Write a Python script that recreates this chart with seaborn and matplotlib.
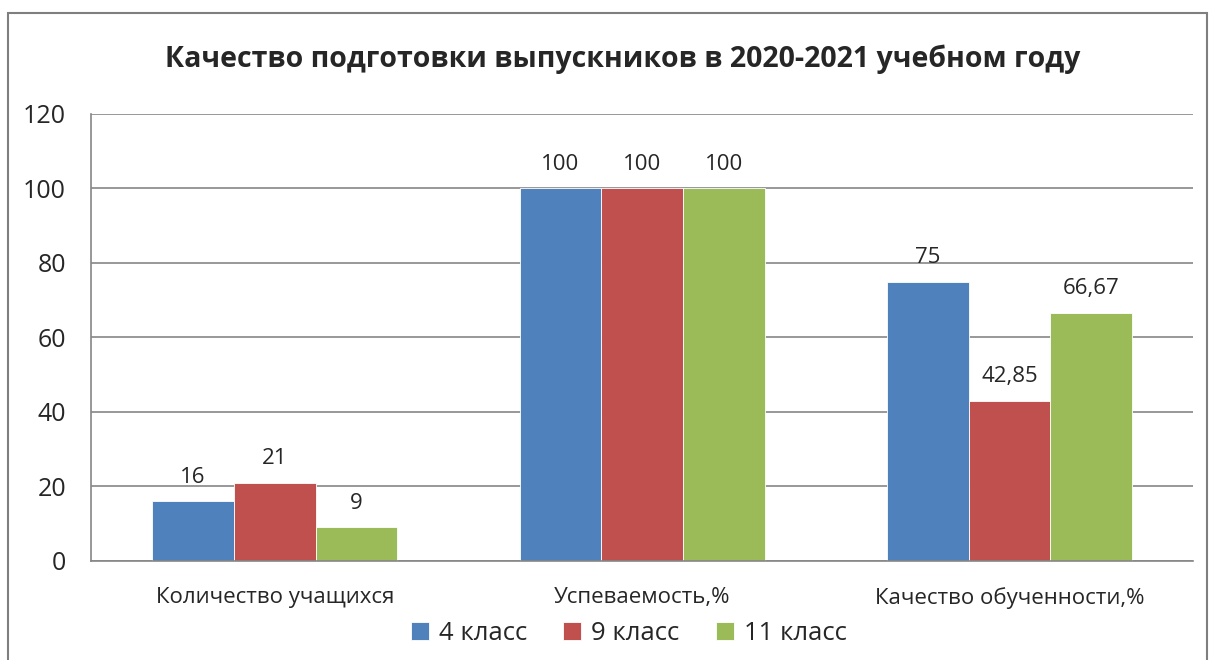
import pandas as pd
import seaborn as sns
import matplotlib.pyplot as plt
from matplotlib.patches import Rectangle

categories = ["Количество учащихся", "Успеваемость,%", "Качество обученности,%"]
groups = ["4 класс", "9 класс", "11 класс"]
vals_4 = [16, 100, 75]
vals_9 = [21, 100, 42.85]
vals_11 = [9, 100, 66.67]
labels_4 = ["16", "100", "75"]
labels_9 = ["21", "100", "42,85"]
labels_11 = ["9", "100", "66,67"]

colors = ["#4F81BD", "#C0504D", "#9BBB59"]
grid_col = "#868686"

rows = []
for g, vals in zip(groups, [vals_4, vals_9, vals_11]):
    for c, v in zip(categories, vals):
        rows.append({"cat": c, "grp": g, "val": v})
df = pd.DataFrame(rows)

sns.set_style("white")
plt.rcParams["font.family"] = ["Open Sans", "DejaVu Sans"]

fig = plt.figure(figsize=(12.09, 6.60), dpi=100)
ax = fig.add_axes([0.0753, 0.15, 0.9115, 0.6773])

sns.barplot(data=df, x="cat", y="val", hue="grp", palette=colors,
            width=0.667, gap=0, ax=ax, saturation=1, legend=True,
            edgecolor="white", linewidth=0.6)

for cont, labs in zip(ax.containers, [labels_4, labels_9, labels_11]):
    ax.bar_label(cont, labels=labs, padding=10, fontsize=16)

ax.set_ylim(0, 120)
ax.set_yticks(range(0, 121, 20))
ax.set_xlim(-0.5, 2.5)
ax.yaxis.grid(True, color=grid_col, linewidth=1.2)
ax.set_axisbelow(True)
for s in ["top", "right"]:
    ax.spines[s].set_visible(False)
ax.spines["left"].set_color(grid_col)
ax.spines["bottom"].set_color(grid_col)
ax.spines["left"].set_linewidth(1.2)
ax.spines["bottom"].set_linewidth(1.2)
ax.tick_params(axis="y", length=8, color=grid_col, width=1.2, labelsize=18, pad=10)
ax.tick_params(axis="x", length=0, labelsize=16, pad=19)
ax.set_xticks([-0.5, 0.5, 1.5, 2.5], minor=True)
ax.tick_params(axis="x", which="minor", length=8, color=grid_col, width=1.2)
ax.set_xlabel("")
ax.set_ylabel("")

fig.text(0.515, 0.91, "Качество подготовки выпускников в 2020-2021 учебном году",
         ha="center", va="center", fontsize=20.5, fontweight="bold")

ax.legend(loc="center", bbox_to_anchor=(0.52, 0.04), bbox_transform=fig.transFigure,
          ncol=3, frameon=False, fontsize=18.5, handlelength=0.7, handleheight=0.7,
          handletextpad=0.4, columnspacing=1.4)

fig.patches.append(Rectangle((8 / 1209, -0.1), 1199 / 1209, 1.1 - 13 / 660,
                             transform=fig.transFigure, fill=False,
                             edgecolor="#7f7f7f", linewidth=1.5))

fig.savefig("out.png", dpi=100)
